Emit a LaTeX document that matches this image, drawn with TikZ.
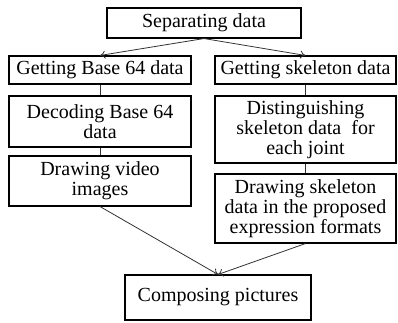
\documentclass[tikz,border=0pt]{standalone}
\usepackage{fontspec}
\setmainfont{Liberation Serif}
\usetikzlibrary{arrows.meta}
\definecolor{grayd}{RGB}{50,50,50}
\tikzset{
    box/.style = {draw, thick, inner sep=0pt, align=center, font=\fontsize{15}{15.2}\selectfont},
    arrow/.style = {draw=grayd, semithick, -{To[length=4pt,width=6pt]}},
    link/.style = {draw=grayd, semithick}
}
\begin{document}
\begin{tikzpicture}[x=0.75pt,y=-0.75pt]
                    \useasboundingbox (0,0) rectangle (398,322);
                    \node[box, minimum width=194*0.75pt, minimum height=30*0.75pt] (sep) at (204,23) {Separating data};
                    \node[box, minimum width=182*0.75pt, minimum height=28*0.75pt] (b64) at (100,70) {Getting Base 64 data};
                    \node[box, minimum width=181*0.75pt, minimum height=28*0.75pt] (skel) at (305.5,70) {Getting skeleton data};
                    \node[box, minimum width=182*0.75pt, minimum height=51*0.75pt] (dec) at (100,121.5) {Decoding Base 64\\data};
                    \node[box, minimum width=181*0.75pt, minimum height=67*0.75pt] (dist) at (305.5,129.5) {Distinguishing\\skeleton data\ \ for\\each joint};
                    \node[box, minimum width=182*0.75pt, minimum height=50*0.75pt] (vid) at (100,181) {Drawing video\\images};
                    \node[box, minimum width=181*0.75pt, minimum height=69*0.75pt] (drw) at (305.5,208.5) {Drawing skeleton\\data in the proposed\\expression formats};
                    \node[box, minimum width=186*0.75pt, minimum height=45*0.75pt] (comp) at (218,297.5) {Composing pictures};
                    \draw[arrow] (sep.south) -- (b64.north);
                    \draw[arrow] (sep.south) -- (skel.north);
                    \draw[link] (b64) -- (dec);
                    \draw[link] (dec) -- (vid);
                    \draw[link] (skel) -- (dist);
                    \draw[link] (dist) -- (drw);
                    \draw[arrow] (vid.south) -- (comp.north);
                    \draw[arrow] (drw.south) -- (comp.north);
                \end{tikzpicture}
\end{document}
